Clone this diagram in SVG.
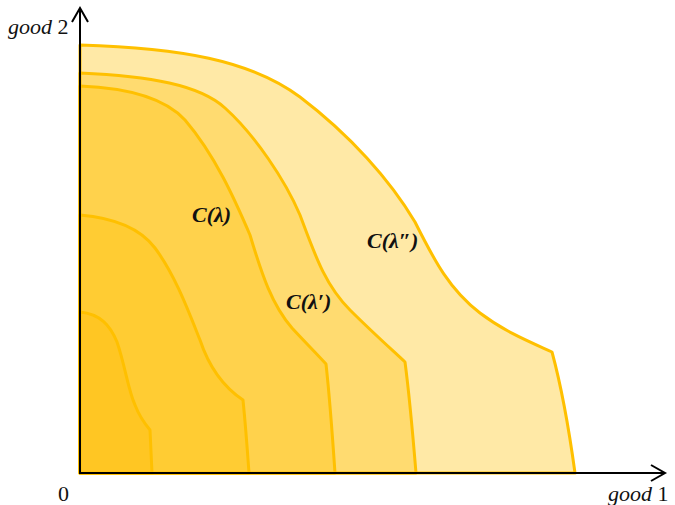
<svg xmlns="http://www.w3.org/2000/svg" width="675" height="505" viewBox="0 0 675 505">
<style>
.reg{stroke:#FFC000;stroke-width:3;stroke-linejoin:round}
.ax{stroke:#000;stroke-width:2;fill:none}
.lbl{font-family:"Liberation Serif",serif;font-style:italic;font-weight:bold;font-size:22px;fill:#111}
.axl{font-family:"Liberation Serif",serif;font-size:22px;fill:#111}
</style>
<rect width="675" height="505" fill="#fff"/>
<g id="region-c-lambda2">
<path class="reg" fill="#FFE9A6" d="M80,45 C180,48 250,60 300,97 C350,135 390,180 415,222 C435,262 450,290 480,313 C505,332 530,342 552,352 Q565,400 575,473 L80,473 Z"/>
</g>
<g id="region-c-lambda1">
<path class="reg" fill="#FFDB70" d="M80,73 C150,76 200,85 225,108 C255,135 285,180 300,215 C315,255 325,285 350,310 C370,330 390,348 405,362 Q410,400 416,473 L80,473 Z"/>
</g>
<g id="region-c-lambda">
<path class="reg" fill="#FFD24C" d="M80,86 C130,88 165,98 185,120 C215,155 235,200 250,235 C262,275 272,305 292,328 C303,340 315,352 326,364 Q330,400 335,473 L80,473 Z"/>
</g>
<g id="region-4">
<path class="reg" fill="#FFCC33" stroke-width="2.5" d="M80,215 C115,218 140,228 155,248 C175,275 188,310 200,340 C210,370 225,388 243,400 Q246,430 249,473 L80,473 Z"/>
</g>
<g id="region-5">
<path class="reg" fill="#FFC623" stroke-width="2.5" d="M80,312 C100,314 110,325 117,342 C125,365 128,390 135,405 C140,418 145,424 150,430 Q151,450 152,473 L80,473 Z"/>
</g>
<g id="connectors">
<path class="ax" d="M80,474 L80,8 M72,22 L80,8 L88,22"/>
<path class="ax" d="M79,473 L665,473 M651,465 L665,473 L651,481"/>
</g>
<g id="labels">
<text class="lbl" x="192" y="222">C(λ)</text>
<text class="lbl" x="286" y="309">C(λ′)</text>
<text class="lbl" x="367" y="248">C(λ″)</text>
<text class="axl" x="8" y="34"><tspan font-style="italic">good</tspan> 2</text>
<text class="axl" x="608" y="501"><tspan font-style="italic">good</tspan> 1</text>
<text class="axl" x="58" y="501">0</text>
</g>
</svg>
